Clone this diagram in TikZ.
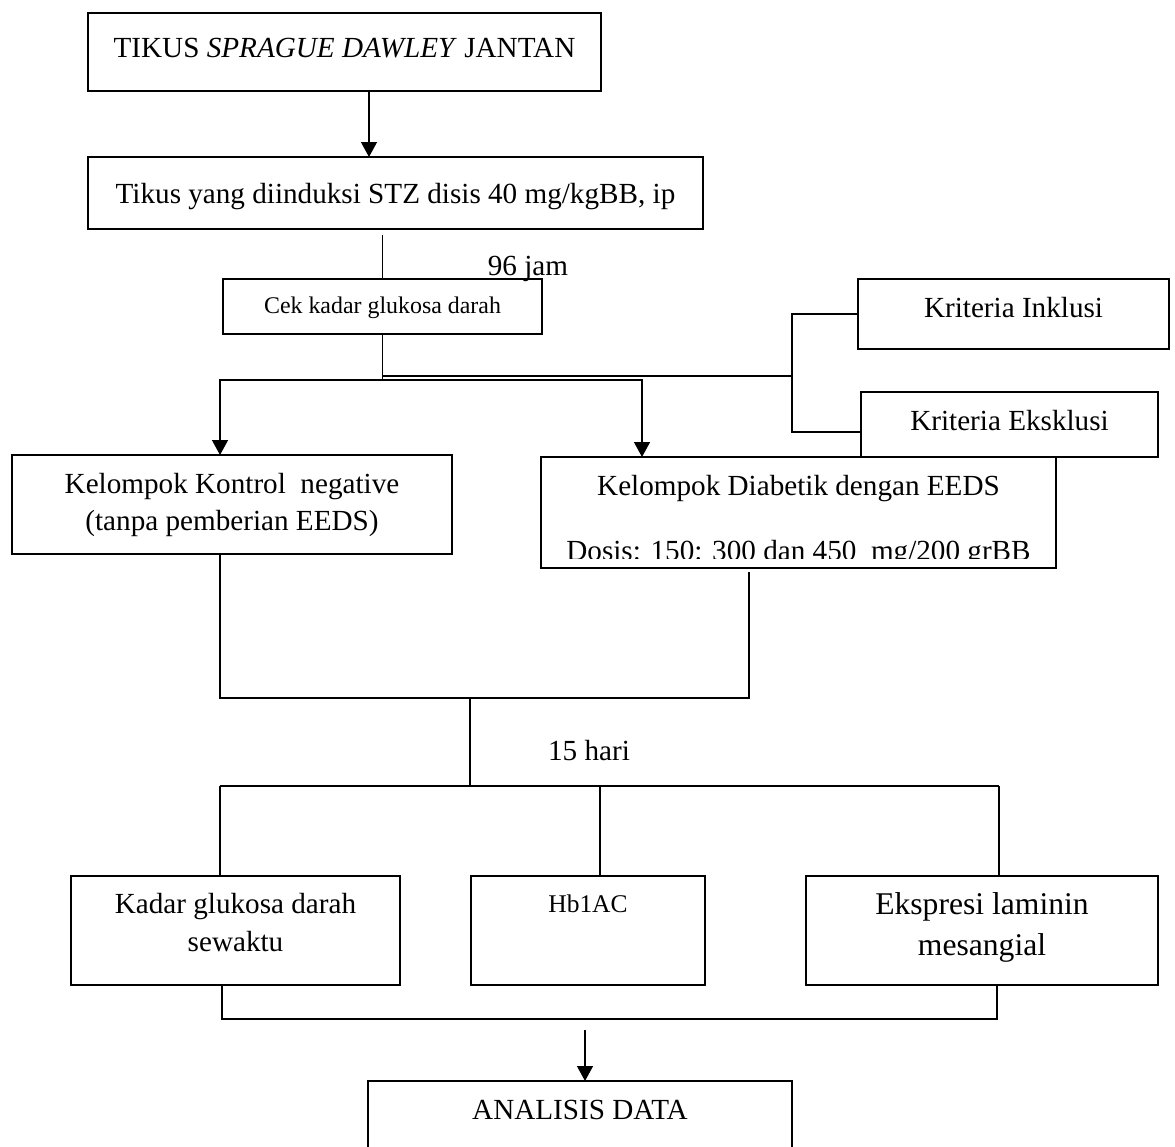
\documentclass[tikz,border=0pt]{standalone}
\usepackage{fontspec}
\setmainfont{Liberation Serif}
\usetikzlibrary{arrows.meta}
\newcommand{\fteks}{\fontsize{16.6pt}{21.5pt}\selectfont}

\begin{document}
\begin{tikzpicture}[x=0.02cm,y=-0.02cm,
  kotak/.style={draw,line width=0.8pt,inner sep=0pt,outer sep=0pt,font=\fteks},
  garis/.style={line width=0.75pt},
  panah/.style={garis,-{Triangle[length=0.3cm,width=0.32cm]}}]
  \useasboundingbox (0,0) rectangle (1175,1146);
  % kotak utama
  \node[kotak,minimum width=10.26cm,minimum height=1.56cm,text height=0.24cm,text depth=0pt] (tikus) at (344.5,52) {TIKUS \textit{SPRAGUE DAWLEY} JANTAN};
  \node[kotak,minimum width=12.3cm,minimum height=1.44cm,text height=0.4cm,text depth=0pt] (induksi) at (395.5,193) {Tikus yang diinduksi STZ disis 40 mg/kgBB, ip};
  \node[kotak,minimum width=6.38cm,minimum height=1.1cm,text height=0.26cm,text depth=0pt,font=\fontsize{13.6pt}{16pt}\selectfont] (cek) at (382.5,306.5) {Cek kadar glukosa darah};
  \node[anchor=base,font=\fteks] (jam) at (528,275) {96 jam};
  \node[kotak,minimum width=6.22cm,minimum height=1.4cm,text height=0.12cm,text depth=0pt] (inklusi) at (1013.5,314) {Kriteria Inklusi};
  \node[kotak,minimum width=5.94cm,minimum height=1.3cm,text height=0.22cm,text depth=0pt] (eksklusi) at (1009.5,424.5) {Kriteria Eksklusi};
  \node[kotak,minimum width=8.8cm,minimum height=1.98cm,text height=0pt,text depth=0.46cm] (kontrol) at (232,504.5)
    {\begin{tabular}[t]{@{}c@{}}Kelompok Kontrol\ \ negative\\(tanpa pemberian EEDS)\end{tabular}};
  \node[kotak,minimum width=10.3cm,minimum height=2.22cm,text height=0pt,text depth=0.7cm] (dia) at (798.5,512.5) {Kelompok Diabetik dengan EEDS};
  \begin{scope}
    \clip (541,457) rectangle (1056,558);
    \node[anchor=base,font=\fteks] (dosis) at (798.5,560) {Dosis: 150: 300 dan 450\ \ mg/200 grBB};
  \end{scope}
  \node[anchor=base,font=\fteks] (hari) at (589,760) {15 hari};
  \node[kotak,minimum width=6.58cm,minimum height=2.18cm,text height=0pt,text depth=0.7cm,font=\fontsize{16.6pt}{22.1pt}\selectfont] (kadar) at (235.5,930.5)
    {\begin{tabular}[t]{@{}c@{}}Kadar glukosa darah\\sewaktu\end{tabular}};
  \node[kotak,minimum width=4.68cm,minimum height=2.18cm,text height=0pt,text depth=0.74cm,font=\fontsize{14.5pt}{17pt}\selectfont] (hba) at (588,930.5) {Hb1AC};
  \node[kotak,minimum width=7.04cm,minimum height=2.18cm,text height=0pt,text depth=0.66cm,font=\fontsize{18pt}{23.8pt}\selectfont] (ekspresi) at (982,930.5)
    {\begin{tabular}[t]{@{}c@{}}Ekspresi laminin\\mesangial\end{tabular}};
  \node[kotak,minimum width=8.48cm,minimum height=1.6cm,text height=0pt,text depth=0.08cm] (analisis) at (580,1121) {ANALISIS DATA};
  % titik cabang
  \coordinate (p1) at (369,0);
  \coordinate (cabL) at (220,380);
  \coordinate (cabR) at (642,380);
  \coordinate (krit) at (792,376);
  \coordinate (kritB) at (792,432);
  \coordinate (g1) at (220,698);
  \coordinate (g2) at (749,698);
  \coordinate (t2) at (470,786);
  \coordinate (b1) at (220,786);
  \coordinate (b2) at (600,786);
  \coordinate (b3) at (999,786);
  \coordinate (c1) at (222,1019);
  \coordinate (c2) at (997,1019);
  \coordinate (d1) at (585,1030);
  % garis penghubung
  \draw[panah] (tikus.south -| p1) -- (induksi.north -| p1);
  \draw[garis,shorten <=0.12cm] (induksi.south -| cek.north) -- (cek.north);
  \draw[garis] (cek.south) -- (cek.south |- cabL);
  \draw[panah] (cek.south |- cabL) -- (cabL) -- (cabL |- kontrol.north);
  \draw[panah] (cek.south |- cabL) -- (cabR) -- (cabR |- dia.north);
  \draw[garis] (cek.south |- krit) -- (krit);
  \draw[garis] (inklusi.west) -| (kritB) -- (kritB -| eksklusi.west);
  \draw[garis,shorten >=0.08cm] (kontrol.south -| g1) -- (g1) -- (g2) -- (dia.south -| g2);
  \draw[garis] (g1 -| t2) -- (t2);
  \draw[garis] (b1) -- (b3);
  \draw[garis] (b1) -- (b1 |- kadar.north);
  \draw[garis] (b2) -- (b2 |- hba.north);
  \draw[garis] (b3) -- (b3 |- ekspresi.north);
  \draw[garis] (kadar.south -| c1) -- (c1) -- (c2) -- (ekspresi.south -| c2);
  \draw[panah] (d1) -- (analisis.north -| d1);
\end{tikzpicture}
\end{document}
